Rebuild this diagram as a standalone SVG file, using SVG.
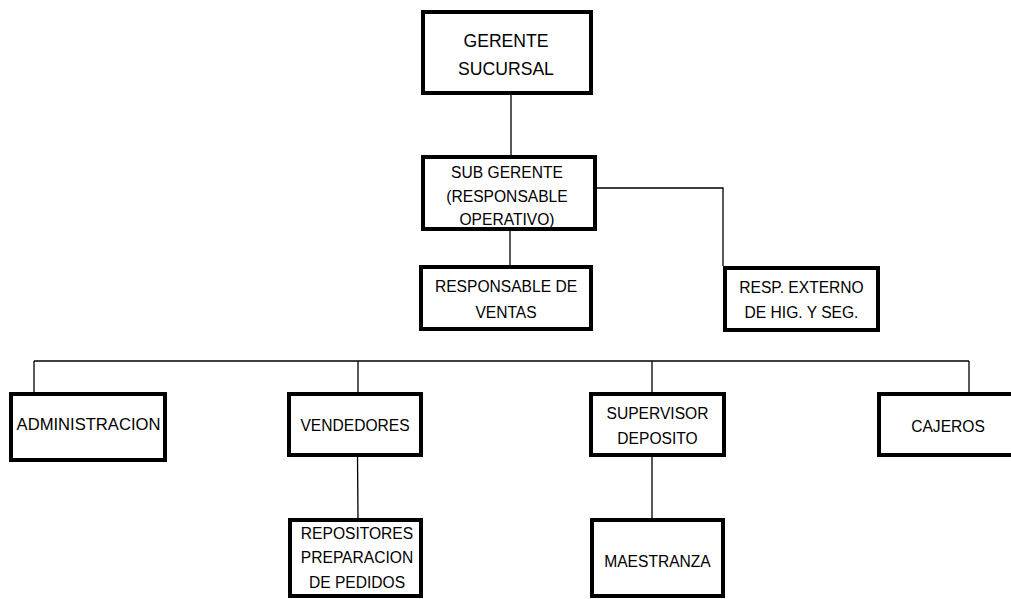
<svg xmlns="http://www.w3.org/2000/svg" width="1011" height="599" viewBox="0 0 1011 599">
<style>
.box{fill:#fff;stroke:#000;stroke-width:4}
.ln{fill:none;stroke:#000;stroke-width:1.3}
text{font-family:"Liberation Sans",Arial,sans-serif;font-size:15.6px;fill:#000;text-anchor:middle}
.big{font-size:17.6px}
.adm{font-size:16.6px}
</style>
<rect width="1011" height="599" fill="#fff"/>
<g id="connectors">
<path class="ln" d="M511,95V157"/>
<path class="ln" d="M596,188H723V266"/>
<path class="ln" d="M510,230V266"/>
<path class="ln" d="M34,361H969"/>
<path class="ln" d="M34,361V393M358,361V393M652,361V393M969,361V393"/>
<path class="ln" d="M357.5,456L358,519"/>
<path class="ln" d="M652,456V519"/>
</g>
<g id="gerente">
<rect class="box" x="423" y="12" width="168" height="81"/>
<text class="big" x="506" y="47">GERENTE</text>
<text class="big" x="506" y="75">SUCURSAL</text>
</g>
<g id="subgerente">
<rect class="box" x="423" y="157" width="172" height="72"/>
<text x="507" y="178">SUB GERENTE</text>
<text x="507" y="201.5">(RESPONSABLE</text>
<text x="507" y="225">OPERATIVO)</text>
</g>
<g id="ventas">
<rect class="box" x="421" y="267" width="170" height="62"/>
<text x="506" y="292">RESPONSABLE DE</text>
<text x="506" y="318">VENTAS</text>
</g>
<g id="externo">
<rect class="box" x="725" y="268" width="153" height="62"/>
<text x="801.5" y="293">RESP. EXTERNO</text>
<text x="801.5" y="318">DE HIG. Y SEG.</text>
</g>
<g id="administracion">
<rect class="box" x="11" y="394" width="154" height="66"/>
<text class="adm" x="88.5" y="430">ADMINISTRACION</text>
</g>
<g id="vendedores">
<rect class="box" x="289" y="394" width="132" height="61"/>
<text x="355" y="430.5">VENDEDORES</text>
</g>
<g id="supervisor">
<rect class="box" x="591" y="394" width="133" height="61"/>
<text x="657.5" y="419">SUPERVISOR</text>
<text x="657.5" y="444">DEPOSITO</text>
</g>
<g id="cajeros">
<rect class="box" x="879" y="394" width="150" height="61"/>
<text x="948" y="431.5">CAJEROS</text>
</g>
<g id="repositores">
<rect class="box" x="290" y="520" width="131" height="76"/>
<text x="357" y="539">REPOSITORES</text>
<text x="357" y="563">PREPARACION</text>
<text x="357" y="588">DE PEDIDOS</text>
</g>
<g id="maestranza">
<rect class="box" x="592" y="520" width="131" height="76"/>
<text x="657.5" y="567">MAESTRANZA</text>
</g>
</svg>
